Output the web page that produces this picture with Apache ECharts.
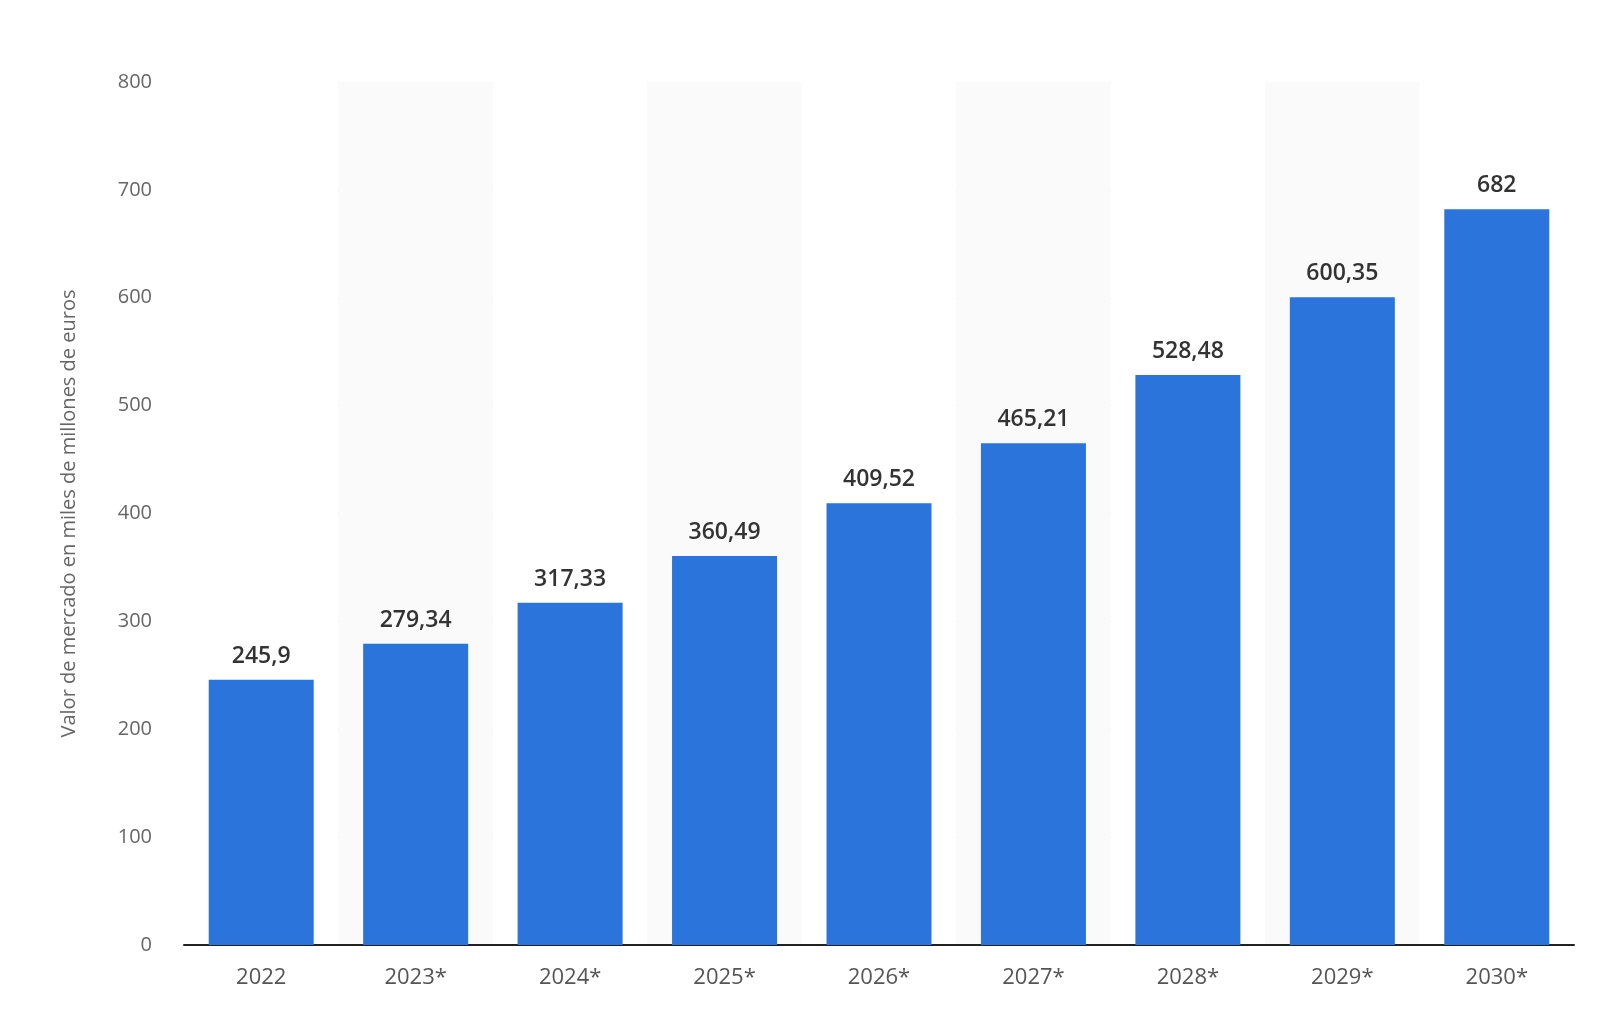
<!DOCTYPE html>
<html>
<head>
<meta charset="utf-8">
<script src="https://cdn.jsdelivr.net/npm/echarts@6/dist/echarts.min.js"></script>
<style>
html, body { margin: 0; padding: 0; background: #fff; }
#chart { width: 1600px; height: 1017px; }
</style>
</head>
<body>
<div id="chart"></div>
<script>
var years = ['2022', '2023*', '2024*', '2025*', '2026*', '2027*', '2028*', '2029*', '2030*'];
var values = [245.9, 279.34, 317.33, 360.49, 409.52, 465.21, 528.48, 600.35, 682];
var yTitle = 'Valor de mercado en miles de millones de euros';

var myChart = echarts.init(document.getElementById('chart'));
option = {
    textStyle: { fontFamily: 'Open Sans' },
    grid: { left: 184, right: 26, top: 82, bottom: 72 },
    xAxis: {
        type: 'category',
        data: years,
        axisLine: { lineStyle: { color: '#222', width: 2 } },
        axisTick: { show: false },
        axisLabel: { color: '#555', fontSize: 22, margin: 22 },
        splitArea: { show: true, areaStyle: { color: ['#ffffff', '#fafafa'] } }
    },
    yAxis: {
        type: 'value',
        min: 0,
        max: 800,
        interval: 100,
        name: yTitle,
        nameLocation: 'middle',
        nameGap: 105,
        nameTextStyle: { color: '#666', fontSize: 20 },
        axisLine: { show: false },
        axisTick: { show: false },
        axisLabel: { color: '#666', fontSize: 20, margin: 32 },
        splitLine: { lineStyle: { color: '#c8c8c8', type: 'dotted' } }
    },
    series: [{
        type: 'bar',
        data: values,
        barWidth: 105,
        itemStyle: { color: '#2a74dc' },
        label: {
            show: true,
            position: 'top',
            distance: 12,
            color: '#333',
            fontSize: 23,
            fontWeight: 600,
            formatter: function (p) { return String(p.value).replace('.', ','); }
        }
    }]
};
myChart.setOption(option);
</script>
</body>
</html>
